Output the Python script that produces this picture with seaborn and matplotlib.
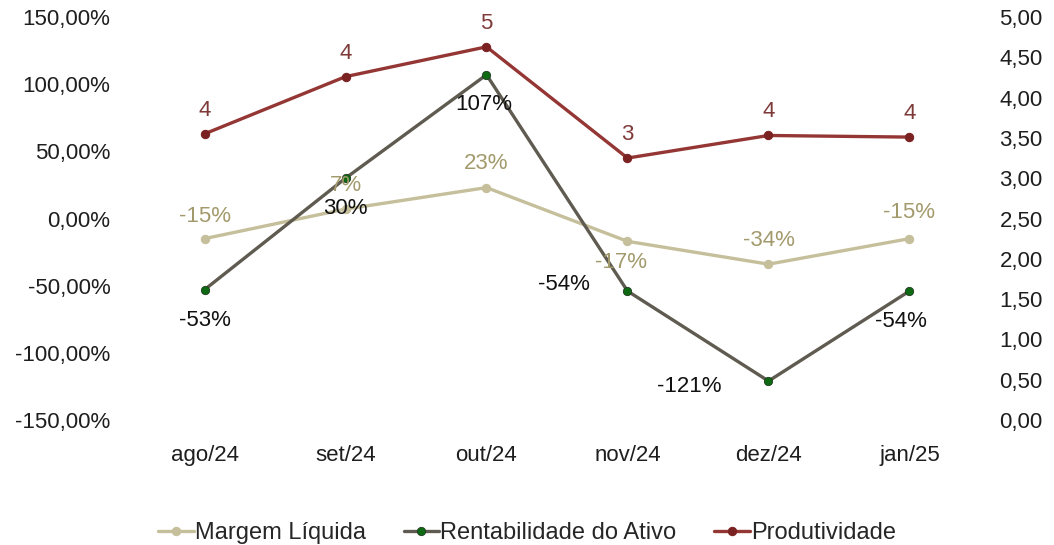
import matplotlib
matplotlib.use("Agg")
import matplotlib.pyplot as plt
from matplotlib.ticker import FuncFormatter
import seaborn as sns
import pandas as pd

meses = ["ago/24", "set/24", "out/24", "nov/24", "dez/24", "jan/25"]
margem_liquida = [-15, 7, 23, -17, -34, -15]
rentabilidade_ativo = [-53, 30, 107, -54, -121, -54]
produtividade = [3.55, 4.26, 4.63, 3.25, 3.53, 3.51]

sns.set_theme(style="white")
plt.rcParams["font.family"] = ["Liberation Sans", "DejaVu Sans"]

df = pd.DataFrame({"mes": meses, "margem": margem_liquida,
                   "rent": rentabilidade_ativo, "prod": produtividade})
df["x"] = range(len(df))

fig = plt.figure(figsize=(10.54, 5.45), dpi=100)
ax = fig.add_axes([134 / 1054, 1 - 420 / 545, 846 / 1054, 403 / 545])
ax2 = ax.twinx()

c_margem, c_margem_txt = "#C6BF9B", "#A29A6C"
c_rent, c_rent_mk = "#5F5B50", "#0E6A12"
c_prod, c_prod_txt = "#943634", "#7E3A38"

sns.lineplot(data=df, x="x", y="margem", ax=ax, color=c_margem, lw=2.4,
             marker="o", markersize=6, markeredgecolor=c_margem, label="Margem Líquida",
             zorder=3)
sns.lineplot(data=df, x="x", y="rent", ax=ax, color=c_rent, lw=2.4,
             marker="o", markersize=6, markerfacecolor=c_rent_mk, markeredgecolor="#1F3A1F",
             markeredgewidth=0.6, label="Rentabilidade do Ativo", zorder=4)
sns.lineplot(data=df, x="x", y="prod", ax=ax2, color=c_prod, lw=2.4,
             marker="o", markersize=6, markerfacecolor="#7A2222", markeredgecolor="#7A2222",
             label="Produtividade", zorder=5)

ax.set_ylim(-150, 150)
ax2.set_ylim(0, 5)
ax.set_xlim(-0.5, len(meses) - 0.5)
ax.set_yticks(range(-150, 151, 50))
ax2.set_yticks([i * 0.5 for i in range(11)])
ax.yaxis.set_major_formatter(FuncFormatter(lambda v, p: f"{v:.2f}%".replace(".", ",")))
ax2.yaxis.set_major_formatter(FuncFormatter(lambda v, p: f"{v:.2f}".replace(".", ",")))
ax.set_xticks(df["x"])
ax.set_xticklabels(meses)
for a in (ax, ax2):
    a.set_xlabel("")
    a.set_ylabel("")
    for s in a.spines.values():
        s.set_visible(False)
    a.tick_params(length=0, labelsize=16, colors="#1E1E1E")
    a.grid(False)
ax.tick_params(axis="y", pad=17)
ax.tick_params(axis="x", pad=18)
ax2.tick_params(axis="y", pad=14)
ax.get_legend().remove()
ax2.get_legend().remove()

fs = 16
# data labels
margem_off = [(0, 16), (0, 17), (0, 17), (-5, -15), (0, 17), (0, 19)]
for i, v in enumerate(margem_liquida):
    ax.annotate(f"{v}%", (i, v), xytext=margem_off[i], textcoords="offset points",
                ha="center", va="center", fontsize=fs, color=c_margem_txt, zorder=6)
rent_off = [(0, -22), (0, -22), (-2, -21.5), (-27, 5), (-34, -4), (-6, -22)]
rent_ha = ["center", "center", "center", "right", "right", "center"]
for i, v in enumerate(rentabilidade_ativo):
    ax.annotate(f"{v}%", (i, v), xytext=rent_off[i], textcoords="offset points",
                ha=rent_ha[i], va="center", fontsize=fs, color="#111111", zorder=6)
for i, v in enumerate(produtividade):
    ax2.annotate(f"{v:.0f}", (i, v), xytext=(0, 17), textcoords="offset points",
                 ha="center", va="center", fontsize=fs, color=c_prod_txt, zorder=6)

h1, l1 = ax.get_legend_handles_labels()
h2, l2 = ax2.get_legend_handles_labels()
fig.legend(h1 + h2, l1 + l2, loc="center", bbox_to_anchor=(0.5, 1 - 533 / 545),
           ncol=3, frameon=False, fontsize=17, handlelength=1.5, handletextpad=0.05,
           columnspacing=1.6)

fig.savefig("out.png", dpi=100)
